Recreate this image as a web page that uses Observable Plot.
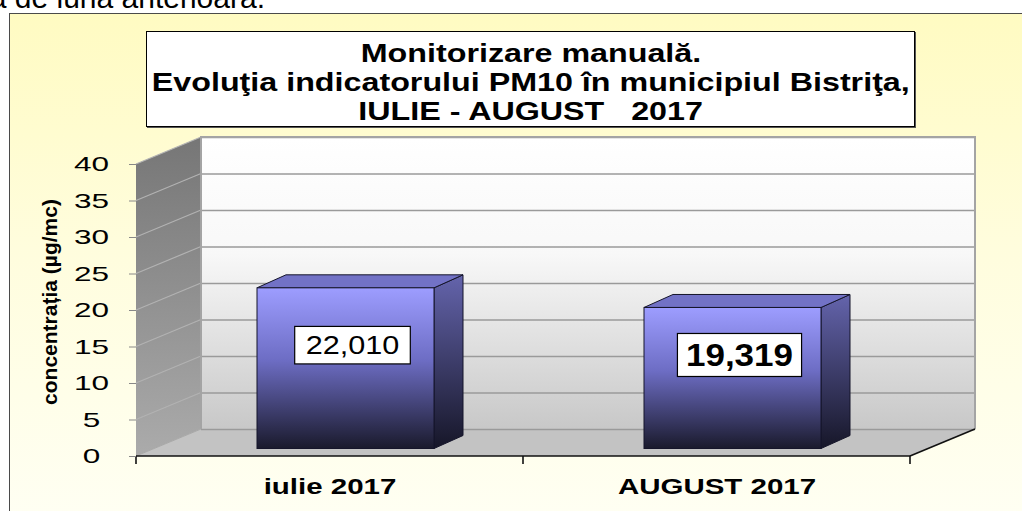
<!DOCTYPE html>
<html lang="ro">
<head>
<meta charset="utf-8">
<script src="https://cdn.jsdelivr.net/npm/d3@7"></script>
<script src="https://cdn.jsdelivr.net/npm/@observablehq/plot@0.6"></script>
<style>
html,body{margin:0;padding:0}
body{width:1022px;height:511px;overflow:hidden;background:#fff;position:relative;font-family:"Liberation Sans",Arial,sans-serif}
#lead{position:absolute;right:757px;top:-19px;font-size:30px;line-height:34px;white-space:nowrap;color:#000}
#panel{position:absolute;left:9px;top:13px;width:1040px;height:520px;border-left:1px solid #4a4a4a;border-top:1px solid #4a4a4a;background:linear-gradient(to bottom,#fffbc2 0%,#fffddd 45%,#fffff4 100%)}
#chart{position:absolute;left:0;top:0}
#chart svg{display:block}
#title{position:absolute;left:146px;top:31px;width:769px;height:96px;box-sizing:border-box;border:1px solid #000;box-shadow:1px 1px 0 #555;background:#fff;text-align:center;font-weight:bold;font-size:25px;line-height:29px;padding-top:7px;color:#000}
#title div{white-space:pre}
#title span{display:inline-block;transform:scaleX(1.29);transform-origin:center}
</style>
</head>
<body>
<div id="lead"></div>
<div id="panel"></div>
<div id="chart"></div>
<div id="title"></div>
<script>
// ---- data ----
const months = ["iulie 2017", "AUGUST 2017"];
const pm10 = [22.010, 19.319];
const yTicks = [0, 5, 10, 15, 20, 25, 30, 35, 40];
const titleLines = ["Monitorizare manuală.", "Evoluţia indicatorului PM10 în municipiul Bistriţa,", "IULIE - AUGUST   2017"];
const yTitle = "concentrația (µg/mc)";
const leadText = "faţă de luna anterioară.";

const data = months.map((m, i) => ({month: m, value: pm10[i]}));

// ---- style constants ----
const DEPTH = [65, -27];
const BAR_FRONT = [16, -7.5];
const BAR_DEPTH = [29, -13];
const BAR_INSET = 105;
const labelStyle = [
  {weight: "normal", size: 25.5, stretch: 1.2, padX: 11},
  {weight: "bold", size: 31, stretch: 1.13, padX: 8.5}
];
const fmt = v => d3.format(".3f")(v).replace(".", ",");

document.getElementById("lead").textContent = leadText;
const titleEl = document.getElementById("title");
titleLines.forEach(t => {
  const div = document.createElement("div");
  const sp = document.createElement("span");
  sp.textContent = t;
  div.appendChild(sp);
  titleEl.appendChild(div);
});

const defs = () => {
  const d = d3.create("svg:defs");
  const lg = (id, stops) => {
    const g = d.append("linearGradient").attr("id", id).attr("x1", 0).attr("y1", 0).attr("x2", 0).attr("y2", 1);
    stops.forEach(([o, c]) => g.append("stop").attr("offset", o).attr("stop-color", c));
  };
  lg("gFront", [[0, "#9d9dff"], [0.45, "#6d6dc4"], [1, "#1a1a2c"]]);
  lg("gSide", [[0, "#6464ac"], [1, "#161628"]]);
  lg("gBack", [[0, "#ffffff"], [0.4, "#f8f8f8"], [1, "#c8c8c8"]]);
  lg("gLeft", [[0, "#767676"], [1, "#ababab"]]);
  return d.node();
};

const walls = (index, scales, values, dims) => {
  const {y} = scales;
  const x0 = dims.marginLeft, x1 = dims.width - dims.marginRight;
  const [dx, dy] = DEPTH;
  const yb = y(0), yt = y(d3.max(yTicks));
  const g = d3.create("svg:g");
  g.append("rect").attr("x", x0 + dx).attr("y", yt + dy).attr("width", x1 - x0).attr("height", yb - yt).attr("fill", "url(#gBack)");
  g.append("path").attr("d", `M${x0},${yb}L${x1},${yb}L${x1 + dx},${yb + dy}L${x0 + dx},${yb + dy}Z`).attr("fill", "#c3c3c3");
  g.append("path").attr("d", `M${x0},${yb}L${x0},${yt}L${x0 + dx},${yt + dy}L${x0 + dx},${yb + dy}Z`).attr("fill", "url(#gLeft)");
  for (const t of yTicks.slice(1)) {
    g.append("line").attr("x1", x0).attr("y1", y(t)).attr("x2", x0 + dx).attr("y2", y(t) + dy)
      .attr("stroke", "#b2b2b2").attr("stroke-width", 1.2);
  }
  return g.node();
};

const wallEdges = (index, scales, values, dims) => {
  const {y} = scales;
  const x0 = dims.marginLeft, x1 = dims.width - dims.marginRight;
  const [dx, dy] = DEPTH;
  const yb = y(0), yt = y(d3.max(yTicks));
  const g = d3.create("svg:g").attr("fill", "none");
  g.append("path").attr("d", `M${x0 + dx},${yb + dy}L${x0 + dx},${yt + dy}L${x1 + dx},${yt + dy}L${x1 + dx},${yb + dy}`)
    .attr("stroke", "#a4a4a4").attr("stroke-width", 2);
  g.append("line").attr("x1", x0).attr("y1", yb).attr("x2", x0 + dx).attr("y2", yb + dy).attr("stroke", "#a8a8a8");
  return g.node();
};

const barFaces = (index, scales) => {
  const {x, y} = scales;
  const step = x(months[1]) - x(months[0]);
  const [ddx, ddy] = BAR_DEPTH;
  const g = d3.create("svg:g").attr("stroke", "#15152a").attr("stroke-width", 1).attr("stroke-linejoin", "round");
  data.forEach(d => {
    const l = x(d.month) + BAR_INSET + BAR_FRONT[0];
    const r = x(d.month) + step - BAR_INSET + BAR_FRONT[0];
    const t = y(d.value) + BAR_FRONT[1], b = y(0) + BAR_FRONT[1];
    g.append("path").attr("d", `M${r},${t}L${r + ddx},${t + ddy}L${r + ddx},${b + ddy}L${r},${b}Z`).attr("fill", "url(#gSide)");
    g.append("path").attr("d", `M${l},${t}L${l + ddx},${t + ddy}L${r + ddx},${t + ddy}L${r},${t}Z`).attr("fill", "#7272c6");
  });
  return g.node();
};

const baseAxis = (index, scales, values, dims) => {
  const {x, y} = scales;
  const x0 = dims.marginLeft, x1 = dims.width - dims.marginRight, yb = y(0);
  const [dx, dy] = DEPTH;
  const g = d3.create("svg:g").attr("stroke", "#111").attr("stroke-width", 1.6);
  g.append("line").attr("x1", x0).attr("y1", yb).attr("x2", x1).attr("y2", yb);
  g.append("line").attr("x1", x1).attr("y1", yb).attr("x2", x1 + dx).attr("y2", yb + dy);
  months.map(m => x(m)).concat([x1]).forEach(bx => {
    g.append("line").attr("x1", bx).attr("y1", yb).attr("x2", bx).attr("y2", yb + 8);
  });
  return g.node();
};

const valueLabels = (index, scales) => {
  const {x, y} = scales;
  const step = x(months[1]) - x(months[0]);
  const ctx = document.createElement("canvas").getContext("2d");
  const g = d3.create("svg:g");
  data.forEach((d, i) => {
    const s = labelStyle[i];
    const txt = fmt(d.value);
    ctx.font = `${s.weight} ${s.size}px "Liberation Sans"`;
    const w = ctx.measureText(txt).width * s.stretch;
    const cx = x(d.month) + step / 2 + BAR_FRONT[0] + 7;
    const cy = y(d.value / 2) + BAR_FRONT[1] - 23;
    const bw = w + 2 * s.padX, bh = s.size + 12;
    g.append("rect").attr("x", cx - bw / 2).attr("y", cy - bh / 2).attr("width", bw).attr("height", bh)
      .attr("fill", "#fff").attr("stroke", "#000").attr("stroke-width", 1.2);
    g.append("text").attr("x", cx).attr("y", cy + 0.36 * s.size).attr("text-anchor", "middle")
      .attr("font-size", s.size).attr("font-weight", s.weight)
      .attr("textLength", w).attr("lengthAdjust", "spacingAndGlyphs").attr("fill", "#000").text(txt);
  });
  return g.node();
};

const yAxisTitle = (index, scales, values, dims) => {
  const {y} = scales;
  const cx = dims.marginLeft - 86;
  const cy = (y(0) + y(d3.max(yTicks))) / 2 - 8;
  const g = d3.create("svg:g");
  g.append("text").attr("transform", `translate(${cx},${cy}) rotate(-90)`)
    .attr("text-anchor", "middle").attr("dy", "0.35em")
    .attr("font-size", 21).attr("font-weight", "bold").attr("fill", "#000").text(yTitle);
  return g.node();
};

const svg = Plot.plot({
  width: 1022,
  height: 511,
  marginLeft: 136,
  marginRight: 112,
  marginTop: 164,
  marginBottom: 55,
  style: {background: "transparent", fontFamily: "'Liberation Sans', Arial, sans-serif", color: "#000", overflow: "visible"},
  x: {type: "band", domain: months, padding: 0},
  y: {domain: [0, 40]},
  marks: [
    defs,
    walls,
    Plot.ruleY(yTicks, {dx: DEPTH[0], dy: DEPTH[1], stroke: "#9a9a9a", strokeWidth: 1.3}),
    wallEdges,
    barFaces,
    Plot.barY(data, {x: "month", y: "value", dx: BAR_FRONT[0], dy: BAR_FRONT[1], insetLeft: BAR_INSET, insetRight: BAR_INSET, fill: "url(#gFront)", stroke: "#15152a", strokeWidth: 1}),
    baseAxis,
    Plot.axisY({ticks: yTicks, tickSize: 7, tickPadding: 38, textAnchor: "middle", fontSize: 21, stroke: "#888", fill: "#000", label: null}),
    Plot.axisX({tickSize: 0, tickPadding: 22, fontSize: 22.5, fontWeight: "bold", fill: "#000", label: null}),
    valueLabels,
    yAxisTitle
  ]
});
document.getElementById("chart").appendChild(svg);

function stretch(nodes, f) {
  nodes.forEach(t => {
    const L = t.getComputedTextLength();
    t.setAttribute("textLength", L * f);
    t.setAttribute("lengthAdjust", "spacingAndGlyphs");
  });
}
stretch(svg.querySelectorAll('g[aria-label="y-axis tick label"] text'), 1.5);
stretch(svg.querySelectorAll('g[aria-label="x-axis tick label"] text'), 1.31);
</script>
</body>
</html>
